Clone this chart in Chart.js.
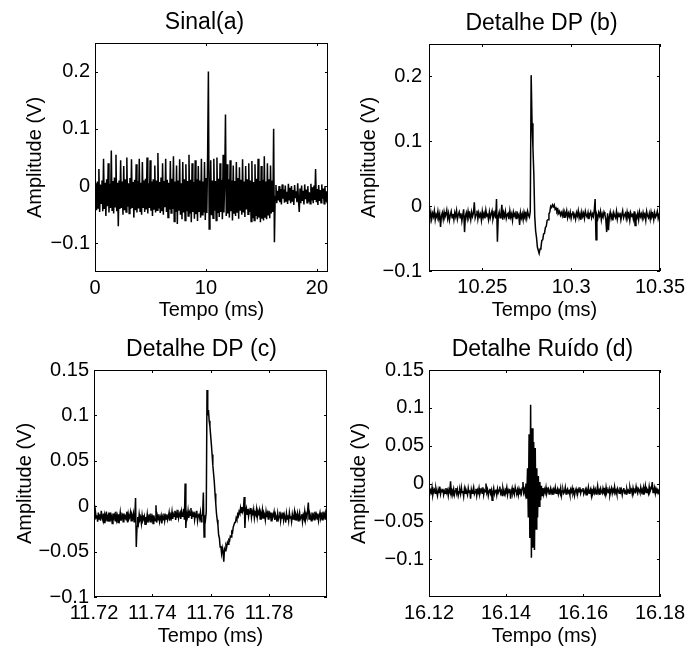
<!DOCTYPE html>
<html>
<head>
<meta charset="utf-8">
<script src="https://cdn.jsdelivr.net/npm/chart.js@4.4.1/dist/chart.umd.min.js"></script>
<style>
    html, body { margin: 0; padding: 0; background: #fff; }
    #fig { position: relative; width: 689px; height: 652px; overflow: hidden; }
    canvas { position: absolute; }
</style>
</head>
<body>
<div id="fig">
    <canvas id="panelA" width="344" height="326" style="left:0;top:0"></canvas>
    <canvas id="panelB" width="345" height="326" style="left:344px;top:0"></canvas>
    <canvas id="panelC" width="344" height="326" style="left:0;top:326px"></canvas>
    <canvas id="panelD" width="345" height="326" style="left:344px;top:326px"></canvas>
</div>
<script>
// sampled signals, amplitude in mV, sample grid = start + i * step (ms)

// (a) full record, 0 .. 21 ms
const startA = 0, stepA = 0.07;
const sinalA = [
    -10, 5, -42, 8, -38, 30, -45, 3, -30, 10,
    -44, 48, -40, 6, -52, 12, -35, 40, -46, 4,
    -38, 62, -42, 9, -48, 15, -36, 55, -44, 6,
    -70, 10, -40, 45, -38, 8, -50, 35, -42, 12,
    -45, 50, -36, 5, -48, 14, -40, 47, -38, 7,
    -55, 11, -42, 38, -46, 9, -39, 48, -44, 6,
    -50, 42, -37, 10, -45, 13, -41, 50, -48, 5,
    -38, 45, -43, 8, -52, 12, -40, 36, -46, 10,
    -42, 58, -39, 7, -47, 15, -44, 40, -50, 9,
    -37, 48, -45, 11, -55, 6, -41, 44, -47, 13,
    -40, 52, -62, 8, -45, 36, -66, 10, -43, 47,
    -50, 5, -58, 42, -46, 12, -60, 38, -44, 9,
    -52, 55, -48, 11, -63, 40, -45, 7, -57, 45,
    -49, 12, -61, 35, -44, 10, -55, 48, -50, 8,
    -46, 42, -59, 14, -47, 52, 200, -75, -44, 45,
    -51, 10, -56, 48, -43, 9, -60, 50, -47, 13,
    -54, 40, -45, 11, -58, 55, -46, 8, 125, -52,
    38, -48, 12, -55, 45, -44, 10, -60, 36, -47,
    9, -52, 42, -45, 14, -57, 33, -43, 11, -50,
    47, -46, 8, -54, 35, -41, 12, -49, 40, -45,
    10, -62, 44, -56, 7, -60, 38, -52, 13, -58,
    48, -55, 9, -63, 35, -57, 11, -60, 52, -54,
    8, -58, 40, -50, 12, -56, 36, -48, 10, -45,
    100, -98, -18, 2, -30, -8, -25, 0, -28, -5,
    -32, 3, -22, -6, -29, 1, -26, -10, -31, 4,
    -24, -3, -30, 0, -27, -7, -33, 2, -21, -9,
    -28, 5, -25, -45, -4, -30, 1, -26, -8, -32,
    3, -23, -6, -29, 0, -27, -11, -31, 4, -25,
    -2, -30, 1, -24, 30, -28, -5, -33, 2, -26,
    -7, -29, 3, -22, -4, -31, 0, -27, -9, -30,
    -15
];

// (b) discharge detail, 10.22 .. 10.35 ms
const startB = 10.22, stepB = 0.0005;
const detalheB = [
    -12, -18, -9, -20, -11, -16, -7, -21, -13, -17,
    -8, -19, -12, -32, -15, -10, -20, -9, -17, -13,
    -6, -19, -11, -22, -14, -8, -18, -12, -21, -10,
    -16, -7, -20, -13, -9, -18, -11, -23, -14, -5,
    -40, -15, -10, -19, -8, -17, -12, -21, -9, -16,
    -11, 6, -18, -13, -7, -20, -10, -16, -12, -22,
    -8, -17, -11, -19, -6, -15, -13, -21, -9, -18,
    -12, -7, -20, -14, -10, -19, 11, -55, -15, -9,
    -18, -12, 2, -21, -10, -16, -8, -19, -13, -11,
    -20, -7, -17, -12, -22, -9, -15, -11, -19, -8,
    -16, -13, -29, -10, -18, -12, -21, -9, -15, -11,
    -19, -8, -14, -17, -8, 202, 128, 90, 50, -15,
    -38, -48, -63, -68, -73, -66, -64, -53, -52, -43,
    -42, -33, -31, -22, -21, -12, -9, 0, -2, 2,
    -1, 2, -5, -3, -8, -5, -11, -8, -14, -10,
    -15, -8, -17, -10, -14, -7, -18, -11, -16, -9,
    -19, -12, -8, -17, -13, -20, -10, -15, -7, -18,
    -12, -21, -9, -16, -11, -19, -8, -14, -17, -10,
    -20, -13, -9, -18, -12, -16, -7, 11, -52, -14,
    -19, -10, -15, -8, -21, -12, -17, -9, -13, -20,
    -40, -11, -37, -16, -9, -19, -13, -22, -10, -15,
    -18, -8, -20, -12, -16, -10, -21, -13, -7, -18,
    -14, -11, -19, -9, -17, -12, -22, -10, -15, -13,
    -20, -8, -30, -14, -18, -11, -21, -9, -16, -12,
    -19, -10, -17, -13, -22, -8, -15, -18, -11, -20,
    -9, -16, -12, -21, -10, -17, -14, -8, -19, -13,
    -15
];

// (c) discharge detail, 11.72 .. 11.80 ms
const startC = 11.72, stepC = 0.00025;
const detalheC = [
    -8, -15, -6, -13, -10, -17, -7, -14, -9, -16,
    -5, -12, -15, -8, -18, -10, -13, -6, -16, -11,
    -9, -17, -7, -14, -12, -19, -8, -13, -10, -16,
    -6, -15, -11, -18, -9, -14, -7, -16, -12, -10,
    -17, -8, -13, -11, -15, -6, -18, -9, -14, -12,
    -7, -16, -10, -13, -8, -17, -11, 9, -45, -22,
    -12, -18, -9, -15, -13, -19, -10, -16, -14, -11,
    -20, -12, -16, -9, -18, -13, -11, -17, -8, -15,
    -12, -19, -10, -14, -16, 1, -18, -11, -15, -9,
    -17, -13, -10, -19, -12, -15, -8, -16, -11, -14,
    -9, -15, -12, -7, -16, -10, -13, -6, -14, -9,
    -11, -5, -15, -8, -12, -4, -13, -9, -7, -14,
    -6, -11, -10, -3, -15, 25, -24, -8, -12, -5,
    -13, -7, -10, -2, -14, -8, -11, -6, -15, -9,
    -12, -5, -16, -10, -8, -13, -7, -17, -11, -9,
    15, -34, -10, -14, -6, 128, 100, 106, 94, 88,
    78, 68, 57, 45, 36, 27, 14, 3, -8, -15,
    -21, -32, -35, -45, -44, -52, -46, -50, -61, -47,
    -49, -43, -45, -40, -42, -37, -38, -33, -34, -28,
    -29, -23, -23, -18, -18, -13, -15, -9, -11, -6,
    -8, -2, -7, -1, -6, -3, 10, -24, -5, -2,
    -9, -3, -11, -5, -8, -2, -12, -6, -10, -4,
    -13, -7, -9, -3, -12, -6, -10, -5, -14, -8,
    -11, -4, -13, -7, -9, -15, -6, -12, -8, -14,
    -5, -11, -9, -16, -7, -13, -10, -6, -15, -9,
    -12, -17, -8, -14, -11, -6, -16, -10, -13, -7,
    -15, -9, -12, -18, -8, -14, -10, -16, -7, -13,
    -11, -17, -9, -14, -12, -6, -15, -10, -13, -8,
    -16, -11, -7, -14, -12, -9, -17, -10, -13, -6,
    -15, -9, -12, -5, 4, -14, -8, -11, -16, -7,
    -13, -10, -15, -6, -12, -9, -14, -8, -16, -11,
    -7, -13, -10, -15, -6, -12, -9, -14, -8, -11,
    -10
];

// (d) noise burst detail, 16.12 .. 16.18 ms
const startD = 16.12, stepD = 0.0002;
const ruidoD = [
    -7, -14, -9, -12, -5, -15, -10, -8, -13, -6,
    -11, -16, -8, -12, -4, -14, -9, -11, -7, -15,
    -10, -13, -6, -12, -9, -16, -8, -11, 3, -14,
    -9, -12, -7, -15, -10, -6, -13, -8, -16, -11,
    -9, -14, -5, -12, -10, -17, -7, -13, -8, -11,
    -15, -6, -12, -9, -20, -8, -13, -10, -5, -14,
    -11, -7, -16, -9, -12, -6, -14, -10, -8, -13,
    -5, -15, -9, -11, 0, -12, -8, -16, -10, -7,
    -13, -9, -22, -11, -6, -14, -10, -8, -15, -7,
    -12, -9, -4, -13, -10, -16, -6, -11, -14, -8,
    -10, -5, -15, -9, -12, -7, -20, -11, -6, -13,
    -9, -14, -5, -10, -12, -8, -15, -7, -11, -9,
    -13, -6, 2, -12, -8, -14, 0, -20, 20, -45,
    65, -72, 104, -98, 73, -85, 55, -88, 47, -60,
    20, -45, 10, -30, 2, -22, -3, -16, -6, -14,
    -8, -12, -5, -13, -9, -7, -14, -10, -6, -12,
    -9, -15, -8, -11, -5, -13, -10, -7, -14, -9,
    -12, -6, -16, -10, -8, -13, -11, -5, -14, -9,
    -7, -12, -10, -15, -8, -11, -6, -13, -9, -16,
    -10, -7, -12, -14, -8, -11, -5, -13, -9, -10,
    -6, -14, -11, -8, -15, -9, -12, -5, -13, -10,
    -7, -16, -9, -11, -6, -12, -8, -14, -10, -3,
    -12, -9, -15, -7, -11, -13, -6, -10, -8, -14,
    -5, -12, -9, -11, -7, -15, -10, -6, -13, -8,
    -11, -4, -12, -9, -14, -7, -10, -13, -5, -11,
    -8, -15, -9, -6, -12, -10, -14, -7, -11, -9,
    -13, -5, -10, -8, -14, -6, -12, -9, -11, -4,
    -10, -13, -7, -9, -12, -5, -11, -8, -14, -6,
    -10, -3, -12, -7, -9, -13, -4, -11, -8, -6,
    2, -12, -9, -5, -13, -7, -10, -8, -12, -9,
    -10
];

// tick values
const xTicksA = [0, 10, 20];
const yTicksA = [-0.1, 0, 0.1, 0.2];
const xTicksB = [10.25, 10.3, 10.35];
const yTicksB = [-0.1, 0, 0.1, 0.2];
const xTicksC = [11.72, 11.74, 11.76, 11.78];
const yTicksC = [-0.1, -0.05, 0, 0.05, 0.1, 0.15];
const xTicksD = [16.12, 16.14, 16.16, 16.18];
const yTicksD = [-0.1, -0.05, 0, 0.05, 0.1, 0.15];

const fontFamily = "'Liberation Sans', Arial, Helvetica, sans-serif";
Chart.defaults.font.family = fontFamily;
Chart.defaults.color = '#000';

function toPoints(start, step, mv) {
    return mv.map((v, i) => ({ x: start + i * step, y: v / 1000 }));
}

// matlab style box: frame, inward ticks on all sides, panel title
const matlabAxes = {
    id: 'matlabAxes',
    afterDraw(chart, args, opts) {
        const { ctx, chartArea: a, scales } = chart;
        const tl = 3;
        ctx.save();
        ctx.strokeStyle = '#000';
        ctx.lineWidth = 1;
        ctx.beginPath();
        scales.x.ticks.forEach(t => {
            const px = Math.round(scales.x.getPixelForValue(t.value)) + 0.5;
            ctx.moveTo(px, a.bottom); ctx.lineTo(px, a.bottom - tl);
            ctx.moveTo(px, a.top); ctx.lineTo(px, a.top + tl);
        });
        scales.y.ticks.forEach(t => {
            const py = Math.round(scales.y.getPixelForValue(t.value)) + 0.5;
            ctx.moveTo(a.left, py); ctx.lineTo(a.left + tl, py);
            ctx.moveTo(a.right, py); ctx.lineTo(a.right - tl, py);
        });
        ctx.stroke();
        ctx.strokeRect(Math.round(a.left) + 0.5, Math.round(a.top) + 0.5,
            Math.round(a.right - a.left) - 1, Math.round(a.bottom - a.top) - 1);

        ctx.font = opts.size + 'px ' + fontFamily;
        ctx.fillStyle = '#000';
        ctx.textAlign = 'center';
        ctx.textBaseline = 'middle';
        ctx.fillText(opts.text, (a.left + a.right) / 2 + opts.shift, a.top - 20);
        ctx.restore();
    }
};

const fmt = v => String(v).replace('-', '\u2212');

function makePanel(id, p) {
    return new Chart(document.getElementById(id), {
        type: 'line',
        data: {
            datasets: [{
                data: p.points,
                borderColor: '#000',
                borderWidth: 1.5,
                pointRadius: 0,
                tension: 0
            }]
        },
        options: {
            responsive: false,
            animation: false,
            events: [],
            layout: { padding: { left: 0, right: p.padRight, top: p.padTop, bottom: 0 } },
            plugins: {
                legend: { display: false },
                tooltip: { enabled: false },
                title: { display: false },
                matlabAxes: { text: p.title, shift: p.titleShift, size: 23 }
            },
            scales: {
                x: {
                    type: 'linear',
                    min: p.xMin,
                    max: p.xMax,
                    grid: { display: false, drawTicks: false },
                    border: { display: false },
                    afterBuildTicks: s => { s.ticks = p.xTicks.map(v => ({ value: v })); },
                    afterFit: s => { s.height = p.xAxisHeight; },
                    ticks: { autoSkip: false, maxRotation: 0, padding: 4, font: { size: 20 }, color: '#000', callback: fmt },
                    title: { display: true, text: 'Tempo (ms)', font: { size: 20 }, color: '#000', padding: { top: 0, bottom: 4 } }
                },
                y: {
                    min: p.yMin,
                    max: p.yMax,
                    grid: { display: false, drawTicks: false },
                    border: { display: false },
                    afterBuildTicks: s => { s.ticks = p.yTicks.map(v => ({ value: v })); },
                    afterFit: s => { s.width = p.yAxisWidth; },
                    ticks: { padding: p.yTickPad, font: { size: 20 }, color: '#000', callback: fmt },
                    title: { display: true, text: 'Amplitude (V)', font: { size: 20 }, color: '#000', padding: { top: p.yTitlePad, bottom: 0 } }
                }
            }
        },
        plugins: [matlabAxes]
    });
}

makePanel('panelA', {
    points: toPoints(startA, stepA, sinalA), title: 'Sinal(a)', titleShift: -7,
    xMin: 0, xMax: 21, yMin: -0.15, yMax: 0.25, xTicks: xTicksA, yTicks: yTicksA,
    padTop: 43, padRight: 16, xAxisHeight: 54, yAxisWidth: 95, yTickPad: 5, yTitlePad: 23.5
});
makePanel('panelB', {
    points: toPoints(startB, stepB, detalheB), title: 'Detalhe DP (b)', titleShift: -3,
    xMin: 10.22, xMax: 10.35, yMin: -0.1, yMax: 0.25, xTicks: xTicksB, yTicks: yTicksB,
    padTop: 44, padRight: 27, xAxisHeight: 55, yAxisWidth: 85, yTickPad: 7, yTitlePad: 13.5
});
makePanel('panelC', {
    points: toPoints(startC, stepC, detalheC), title: 'Detalhe DP (c)', titleShift: -9,
    xMin: 11.72, xMax: 11.7999, yMin: -0.1, yMax: 0.15, xTicks: xTicksC, yTicks: yTicksC,
    padTop: 44, padRight: 17, xAxisHeight: 55, yAxisWidth: 94, yTickPad: 5, yTitlePad: 13.5
});
makePanel('panelD', {
    points: toPoints(startD, stepD, ruidoD), title: 'Detalhe Ruído (d)', titleShift: -2,
    xMin: 16.12, xMax: 16.18, yMin: -0.15, yMax: 0.15, xTicks: xTicksD, yTicks: yTicksD,
    padTop: 44, padRight: 27, xAxisHeight: 55, yAxisWidth: 85, yTickPad: 5, yTitlePad: 3.5
});
</script>
</body>
</html>
